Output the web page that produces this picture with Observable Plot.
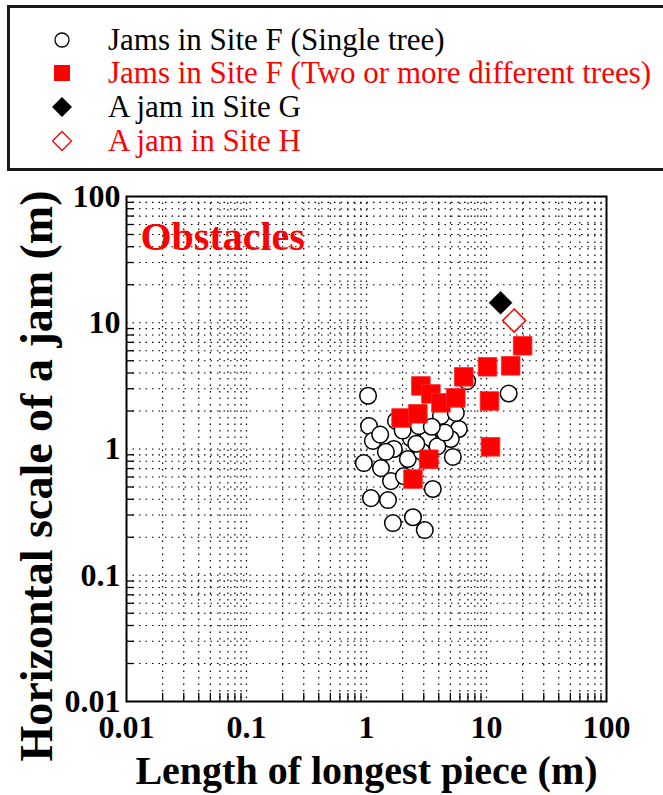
<!DOCTYPE html>
<html><head><meta charset="utf-8">
<script src="https://cdn.jsdelivr.net/npm/d3@7"></script>
<script src="https://cdn.jsdelivr.net/npm/@observablehq/plot@0.6"></script>
<style>
html,body{margin:0;padding:0;background:#fff;width:663px;height:795px;overflow:hidden;font-family:"Liberation Serif","Times New Roman",serif;}
#legend{position:absolute;left:7px;top:5px;width:720px;height:160px;border:3px solid #1a1a1a;}
.row{position:absolute;left:0;height:34px;display:flex;align-items:center;font-size:31px;white-space:nowrap;}
.row svg{margin-left:40px;margin-right:34px;}
#chart{position:absolute;left:0;top:178px;}
</style></head><body>
<div id="legend"></div><div id="chart"></div>
<script>
// Jams in Site F (Single tree)
const singleX = [1.03, 15.3, 1.05, 1.13, 1.76, 1.69, 2.34, 3.25, 2.73, 4.76, 5.88, 5.04, 4.17, 5.55, 0.95, 1.32, 1.60, 2.21, 5.24, 3.57, 1.09, 1.51, 1.66, 2.44, 3.06, 2.05, 6.9, 1.3, 2.0, 2.9, 3.9, 4.5, 1.45, 3.5, 2.6];
const singleY = [2.64, 2.75, 1.52, 1.16, 1.67, 1.00, 1.22, 1.22, 1.52, 1.58, 1.44, 1.20, 1.83, 1.93, 0.774, 0.706, 0.557, 0.833, 0.865, 0.482, 0.408, 0.394, 0.259, 0.288, 0.228, 0.61, 3.45, 1.3, 1.4, 0.95, 1.05, 1.35, 0.95, 1.5, 1.1];
// Jams in Site F (Two or more different trees)
const multiX = [20.0, 10.2, 15.9, 6.47, 10.6, 10.8, 2.84, 3.44, 4.17, 5.55, 1.94, 2.68, 3.31, 2.44];
const multiY = [6.57, 4.48, 4.56, 3.73, 2.40, 1.04, 3.16, 2.73, 2.32, 2.54, 1.76, 1.90, 0.83, 0.578];
// A jam in Site G / Site H
const siteGX = [13.1], siteGY = [14.4];
const siteHX = [17.0], siteHY = [10.4];

const majorTicks = [0.01, 0.1, 1, 10, 100];
const tickLabels = ["0.01", "0.1", "1", "10", "100"];
const minorMultipliers = [2, 3, 4, 5, 6, 7, 8, 9];
const minorTicks = majorTicks.slice(0, -1).flatMap(m => minorMultipliers.map(k => +(m * k).toPrecision(3)));
const gridTicks = [...minorTicks, 0.1, 1, 10];

const legendItems = [
  {label: "Jams in Site F (Single tree)", color: "#000", sym: "circle"},
  {label: "Jams in Site F (Two or more different trees)", color: "#ff0000", sym: "square"},
  {label: "A jam in Site G", color: "#000", sym: "diamondFilled"},
  {label: "A jam in Site H", color: "#ff0000", sym: "diamondOpen"}
];
const legendTops = [15, 48, 82, 116];
const legend = document.getElementById("legend");
legendItems.forEach((it, i) => {
  const row = document.createElement("div");
  row.className = "row";
  row.style.top = legendTops[i] + "px";
  row.style.color = it.color;
  let shape = "";
  if (it.sym === "circle") shape = '<circle cx="12" cy="12" r="7" fill="white" stroke="black" stroke-width="1.3"/>';
  if (it.sym === "square") shape = '<rect x="4" y="4" width="16" height="16" fill="#ff0000"/>';
  if (it.sym === "diamondFilled") shape = '<path d="M12,2L22,12L12,22L2,12Z" fill="black"/>';
  if (it.sym === "diamondOpen") shape = '<path d="M12,2.5L21.5,12L12,21.5L2.5,12Z" fill="white" stroke="#ff0000" stroke-width="1.3"/>';
  row.innerHTML = '<svg width="24" height="24">' + shape + '</svg><span>' + it.label + '</span>';
  legend.appendChild(row);
});

const font = "Liberation Serif, Times New Roman, serif";
const chart = Plot.plot({
  width: 663,
  height: 617,
  marginLeft: 126,
  marginRight: 57,
  marginTop: 18,
  marginBottom: 94,
  style: {fontFamily: font, fontSize: "32px", fontWeight: "bold", color: "black", background: "white", overflow: "visible"},
  x: {type: "log", domain: [0.01, 100]},
  y: {type: "log", domain: [0.01, 100]},
  marks: [
    Plot.ruleX(gridTicks, {x: d => d, stroke: "black", strokeWidth: 1.2, strokeDasharray: "1.5,5"}),
    Plot.ruleY(gridTicks, {y: d => d, stroke: "black", strokeWidth: 1.2, strokeDasharray: "1.5,5"}),
    Plot.axisX({ticks: minorTicks, tickSize: -8, tickFormat: () => "", label: null, strokeWidth: 1.3}),
    Plot.axisY({ticks: minorTicks, tickSize: -8, tickFormat: () => "", label: null, strokeWidth: 1.3}),
    Plot.axisX({ticks: majorTicks, tickSize: 0, tickPadding: 14, tickFormat: (d) => tickLabels[majorTicks.indexOf(d)], label: null, fontSize: 32, fontWeight: "bold"}),
    Plot.axisY({ticks: majorTicks, tickSize: 0, tickPadding: 6, tickFormat: (d) => tickLabels[majorTicks.indexOf(d)], label: null, fontSize: 32, fontWeight: "bold"}),
    Plot.frame({stroke: "black", strokeWidth: 2}),
    Plot.text(["Obstacles"], {frameAnchor: "top-left", dx: 14, dy: 41, textAnchor: "start", lineAnchor: "middle", fill: "#ff0000", fontSize: 40, fontWeight: "bold"}),
    Plot.dot(singleX, {x: singleX, y: singleY, r: 8.3, fill: "white", stroke: "black", strokeWidth: 1.5}),
    Plot.dot(multiX, {x: multiX, y: multiY, symbol: "square", r: 10.5, fill: "#ff0000", stroke: "#ff2a2a", strokeWidth: 0.8}),
    Plot.dot(siteGX, {x: siteGX, y: siteGY, symbol: "diamond2", r: 10.4, fill: "black", stroke: "black", strokeWidth: 0.5}),
    Plot.dot(siteHX, {x: siteHX, y: siteHY, symbol: "diamond2", r: 10.4, fill: "white", stroke: "#ff0000", strokeWidth: 1.5}),
    Plot.text(["Length of longest piece (m)"], {frameAnchor: "bottom", dy: 70, lineAnchor: "middle", fontSize: 40, fontWeight: "bold", fill: "black"}),
    Plot.text(["Horizontal scale of a jam (m)"], {frameAnchor: "left", dx: -89, dy: 27, rotate: -90, textAnchor: "middle", lineAnchor: "middle", fontSize: 46, fontWeight: "bold", fill: "black"})
  ]
});
document.getElementById("chart").appendChild(chart);
</script></body></html>
